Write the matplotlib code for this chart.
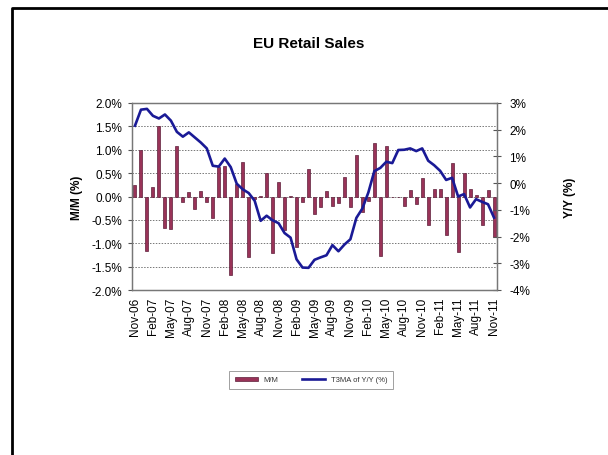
import matplotlib
matplotlib.use("Agg")
import matplotlib.pyplot as plt
from matplotlib.lines import Line2D
from matplotlib.ticker import FuncFormatter
import numpy as np

plt.rcParams['font.family'] = ['Liberation Sans', 'DejaVu Sans']

# Monthly observations, Nov-06 .. Nov-11
months = ["Nov-06", "Dec-06", "Jan-07", "Feb-07", "Mar-07", "Apr-07", "May-07", "Jun-07",
          "Jul-07", "Aug-07", "Sep-07", "Oct-07", "Nov-07", "Dec-07", "Jan-08", "Feb-08",
          "Mar-08", "Apr-08", "May-08", "Jun-08", "Jul-08", "Aug-08", "Sep-08", "Oct-08",
          "Nov-08", "Dec-08", "Jan-09", "Feb-09", "Mar-09", "Apr-09", "May-09", "Jun-09",
          "Jul-09", "Aug-09", "Sep-09", "Oct-09", "Nov-09", "Dec-09", "Jan-10", "Feb-10",
          "Mar-10", "Apr-10", "May-10", "Jun-10", "Jul-10", "Aug-10", "Sep-10", "Oct-10",
          "Nov-10", "Dec-10", "Jan-11", "Feb-11", "Mar-11", "Apr-11", "May-11", "Jun-11",
          "Jul-11", "Aug-11", "Sep-11", "Oct-11", "Nov-11"]

# Month-over-month change (%)
mm = [0.25, 1.0, -1.17, 0.21, 1.5, -0.68, -0.70, 1.09,
      -0.12, 0.09, -0.26, 0.11, -0.12, -0.45, 0.64, 0.66,
      -1.67, 0.27, 0.73, -1.3, -0.05, 0.02, 0.5, -1.21,
      0.31, -0.71, 0.01, -1.09, -0.11, 0.59, -0.38, -0.23,
      0.11, -0.21, -0.13, 0.41, -0.22, 0.88, -0.33, -0.09,
      1.15, -1.27, 1.07, -0.02, -0.02, -0.2, 0.14, -0.16,
      0.39, -0.61, 0.16, 0.16, -0.83, 0.71, -1.18, 0.5,
      0.16, 0.03, -0.61, 0.14, -0.86]

# Three-month moving average of year-over-year change (%)
yy = [2.15, 2.75, 2.78, 2.52, 2.42, 2.57, 2.34, 1.92,
      1.74, 1.9, 1.71, 1.52, 1.3, 0.65, 0.62, 0.92,
      0.6, -0.02, -0.23, -0.37, -0.66, -1.41, -1.22, -1.39,
      -1.5, -1.87, -2.04, -2.85, -3.16, -3.17, -2.87, -2.78,
      -2.7, -2.32, -2.55, -2.3, -2.1, -1.3, -0.95, -0.35,
      0.45, 0.57, 0.8, 0.75, 1.24, 1.25, 1.3, 1.2,
      1.3, 0.84, 0.67, 0.46, 0.12, 0.2, -0.5, -0.41,
      -0.91, -0.6, -0.7, -0.79, -1.29]

W, H = 608, 456
fig = plt.figure(figsize=(W / 100, H / 100), dpi=100)

# outer frame (left and top edges)
fig.add_artist(Line2D([12 / W, 12 / W, 1.0], [0.0, 1 - 9 / H, 1 - 9 / H],
                      transform=fig.transFigure, color='black', lw=2.0))

left, right, top, bottom = 132 / W, 497 / W, 104 / H, 291 / H
ax = fig.add_axes([left, 1 - bottom, right - left, bottom - top])
ax2 = ax.twinx()

x = np.arange(len(months))
ax.bar(x, mm, width=0.5, color='#993358', edgecolor='#5e1f3a', linewidth=0.5,
       label='M/M', zorder=2)
ax2.plot(x, yy, color='#1a1a96', lw=1.9, label='T3MA of Y/Y (%)', zorder=3)

ax.set_xlim(-0.5, len(months) - 0.5)
ax.set_ylim(-2.0, 2.0)
ax2.set_ylim(-4, 3)

ax.set_yticks(np.arange(-2.0, 2.01, 0.5))
ax.yaxis.set_major_formatter(FuncFormatter(lambda v, p: f"{v:.1f}%"))
ax2.set_yticks(np.arange(-4, 3.01, 1))
ax2.yaxis.set_major_formatter(FuncFormatter(lambda v, p: f"{v:.0f}%"))

ax.set_xticks(x[::3])
ax.set_xticklabels(months[::3], rotation=90, fontsize=8.5)
ax.tick_params(axis='x', length=0, pad=5)
ax.tick_params(axis='y', labelsize=8.5, length=3, direction='out', color='#555555', pad=4)
ax2.tick_params(axis='y', labelsize=8.5, length=6, direction='inout', color='#555555', pad=6)

for yv in np.arange(-1.5, 2.0, 0.5):
    ax.axhline(yv, color='#777777', lw=0.7, ls=(0, (1.5, 1.5)), zorder=1)

for a in (ax, ax2):
    for s in a.spines.values():
        s.set_color('#777777')
        s.set_linewidth(0.9)

ax.set_ylabel("M/M (%)", fontsize=8.5, fontweight='bold', labelpad=6)
ax2.set_ylabel("Y/Y (%)", fontsize=8.5, fontweight='bold', rotation=90, labelpad=24)

fig.text(309 / W, 1 - 44 / H, "EU Retail Sales", ha='center', va='center',
         fontsize=11, fontweight='bold')

h1, l1 = ax.get_legend_handles_labels()
h2, l2 = ax2.get_legend_handles_labels()
leg = fig.legend(h1 + h2, l1 + l2, loc='center', bbox_to_anchor=(311 / W, 1 - 381 / H),
                 ncol=2, fontsize=5.5, frameon=True, fancybox=False, edgecolor='#888888',
                 handlelength=3.0, handleheight=0.5, columnspacing=3.0, borderpad=0.7)
leg.get_frame().set_linewidth(0.7)
for t in leg.get_texts():
    t.set_color('#333333')

fig.savefig("out.png", dpi=100)
